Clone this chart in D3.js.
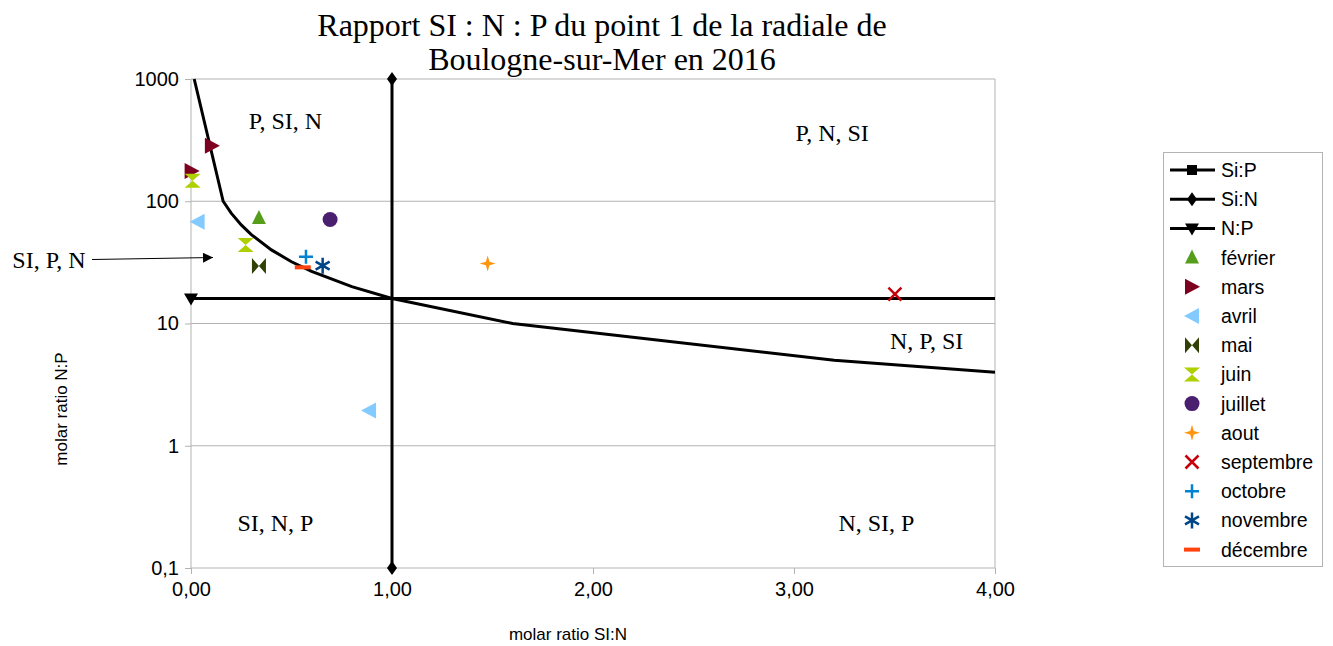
<!DOCTYPE html>
<html lang="fr">
<head>
<meta charset="UTF-8">
<title>Rapport SI : N : P</title>
<script src="https://d3js.org/d3.v7.min.js"></script>
<style>
  body { margin: 0; background: #fff; }
  .title { font-family: "Liberation Serif", serif; font-size: 32px; fill: #000; }
  .zone { font-family: "Liberation Serif", serif; font-size: 24px; fill: #000; }
  .tick text { font-family: "Liberation Sans", Arial, sans-serif; font-size: 20px; fill: #000; }
  .axis-label { font-family: "Liberation Sans", Arial, sans-serif; font-size: 17px; fill: #000; }
  .legend text { font-family: "Liberation Sans", Arial, sans-serif; font-size: 19.5px; fill: #000; }
</style>
</head>
<body>
<script>
// reference lines
var siPx = [0.016, 0.16, 0.2, 0.25, 0.3, 0.4, 0.5, 0.6, 0.8, 1, 1.6, 3.2, 4];
var siPy = [1000, 100, 80, 64, 53.3, 40, 32, 26.7, 20, 16, 10, 5, 4];
var siNx = [1, 1];
var siNy = [0.1, 1000];
var nPx = [0, 4];
var nPy = [16, 16];

// monthly samples
var months = ["février", "mars", "avril", "mai", "juin", "juillet", "aout", "septembre", "octobre", "novembre", "décembre"];
var monthColors = ["#579d1c", "#7e0021", "#83caff", "#314004", "#aecf00", "#4b1f6f", "#ff950e", "#c5000b", "#0084d1", "#004586", "#ff420e"];
var monthShapes = ["triUp", "triRight", "triLeft", "bowtie", "hourglass", "circle", "star4", "cross", "plus", "asterisk", "dash"];
var sampleMonth = ["février", "mars", "mars", "avril", "avril", "mai", "juin", "juin", "juillet", "aout", "septembre", "octobre", "novembre", "décembre"];
var sampleSiN = [0.338, 0.003, 0.104, 0.033, 0.886, 0.338, 0.008, 0.272, 0.692, 1.476, 3.502, 0.572, 0.655, 0.556];
var sampleNP = [73, 177, 285, 68, 1.94, 29.5, 147, 43.9, 71, 31, 17.4, 35.2, 29.7, 28.8];

var xTicks = [0, 1, 2, 3, 4];
var yTicks = [0.1, 1, 10, 100, 1000];

var zones = [
  { t: "P, SI, N", x: 0.47, y: 453 },
  { t: "P, N, SI", x: 3.19, y: 362 },
  { t: "N, P, SI", x: 3.66, y: 7.2 },
  { t: "SI, N, P", x: 0.42, y: 0.233 },
  { t: "N, SI, P", x: 3.41, y: 0.233 }
];

var W = 1333, H = 646;
var x = d3.scaleLinear().domain([0, 4]).range([191, 995]);
var y = d3.scaleLog().domain([0.1, 1000]).range([568, 79]);

var svg = d3.select("body").append("svg").attr("width", W).attr("height", H);

// title
svg.append("text").attr("class", "title").attr("x", 602).attr("y", 36)
  .attr("text-anchor", "middle").text("Rapport SI : N : P du point 1 de la radiale de");
svg.append("text").attr("class", "title").attr("x", 602).attr("y", 70)
  .attr("text-anchor", "middle").text("Boulogne-sur-Mer en 2016");

// grid
svg.append("g").selectAll("line").data(yTicks).enter().append("line")
  .attr("x1", x(0)).attr("x2", x(4))
  .attr("y1", function (d) { return y(d); }).attr("y2", function (d) { return y(d); })
  .attr("stroke", "#b3b3b3").attr("stroke-width", 1);
svg.append("line").attr("x1", x(0)).attr("x2", x(0)).attr("y1", y(1000)).attr("y2", y(0.1))
  .attr("stroke", "#b3b3b3");
svg.append("line").attr("x1", x(4)).attr("x2", x(4)).attr("y1", y(1000)).attr("y2", y(0.1))
  .attr("stroke", "#b3b3b3");

// axes
var xAxis = svg.append("g").attr("transform", "translate(0," + y(0.1) + ")")
  .call(d3.axisBottom(x).tickValues(xTicks).tickSize(6).tickPadding(8)
    .tickFormat(function (d) { return d3.format(".2f")(d).replace(".", ","); }));
var yAxis = svg.append("g").attr("transform", "translate(" + x(0) + ",0)")
  .call(d3.axisLeft(y).tickValues(yTicks).tickSize(6).tickPadding(6)
    .tickFormat(function (d) { return String(d).replace(".", ","); }));
[xAxis, yAxis].forEach(function (a) {
  a.select(".domain").remove();
  a.selectAll(".tick line").attr("stroke", "#b3b3b3");
});

svg.append("text").attr("class", "axis-label").attr("x", 568).attr("y", 640)
  .attr("text-anchor", "middle").text("molar ratio SI:N");
svg.append("text").attr("class", "axis-label")
  .attr("transform", "translate(67,409) rotate(-90)")
  .attr("text-anchor", "middle").text("molar ratio N:P");

// clip
svg.append("clipPath").attr("id", "plot").append("rect")
  .attr("x", x(0) - 8).attr("y", y(1000) - 8).attr("width", x(4) - x(0) + 8).attr("height", y(0.1) - y(1000) + 16);

var plot = svg.append("g").attr("clip-path", "url(#plot)");
var line = d3.line().x(function (d) { return x(d[0]); }).y(function (d) { return y(d[1]); });

plot.append("path").datum(d3.zip(siPx, siPy)).attr("d", line)
  .attr("fill", "none").attr("stroke", "#000").attr("stroke-width", 3);
plot.append("path").datum(d3.zip(siNx, siNy)).attr("d", line)
  .attr("fill", "none").attr("stroke", "#000").attr("stroke-width", 3);
plot.append("path").datum(d3.zip(nPx, nPy)).attr("d", line)
  .attr("fill", "none").attr("stroke", "#000").attr("stroke-width", 3);

// line markers
function diamond(g, cx, cy) {
  g.append("path").attr("d", "M0,-7L5,0L0,7L-5,0Z").attr("transform", "translate(" + cx + "," + cy + ")").attr("fill", "#000");
}
function triDown(g, cx, cy) {
  g.append("path").attr("d", "M-7,-5L7,-5L0,7Z").attr("transform", "translate(" + cx + "," + cy + ")").attr("fill", "#000");
}
function square(g, cx, cy) {
  g.append("rect").attr("x", cx - 5).attr("y", cy - 5).attr("width", 10).attr("height", 10).attr("fill", "#000");
}
siNx.forEach(function (v, i) { diamond(plot, x(v), y(siNy[i])); });
triDown(plot, x(nPx[0]), y(nPy[0]));

// month symbols
var shapePaths = {
  triUp: "M0,-8L7,6L-7,6Z",
  triRight: "M-7,-8L8,0L-7,8Z",
  triLeft: "M7,-8L-8,0L7,8Z",
  bowtie: "M-7,-8L0,0L-7,8ZM7,-8L0,0L7,8Z",
  hourglass: "M-8,-7L8,-7L0,0ZM-8,7L8,7L0,0Z",
  circle: "M-7.5,0A7.5,7.5 0 1,0 7.5,0A7.5,7.5 0 1,0 -7.5,0Z",
  star4: "M0,-8L1.8,-1.8L8,0L1.8,1.8L0,8L-1.8,1.8L-8,0L-1.8,-1.8Z",
  cross: "M-6.5,-6.5L6.5,6.5M6.5,-6.5L-6.5,6.5",
  plus: "M-7,0L7,0M0,-7L0,7",
  asterisk: "M0,-8L0,8M-7,-4L7,4M-7,4L7,-4",
  dash: "M-8,0L8,0"
};
var strokeShapes = { cross: 2.5, plus: 2.5, asterisk: 2.5, dash: 4 };

function drawSymbol(g, shape, color, cx, cy) {
  var p = g.append("path").attr("d", shapePaths[shape])
    .attr("transform", "translate(" + cx + "," + cy + ")");
  if (strokeShapes[shape]) {
    p.attr("fill", "none").attr("stroke", color).attr("stroke-width", strokeShapes[shape]);
  } else {
    p.attr("fill", color);
  }
}

sampleMonth.forEach(function (m, i) {
  var k = months.indexOf(m);
  drawSymbol(plot, monthShapes[k], monthColors[k], x(sampleSiN[i]), y(sampleNP[i]));
});

// zone labels
svg.append("g").selectAll("text").data(zones).enter().append("text")
  .attr("class", "zone").attr("text-anchor", "middle")
  .attr("x", function (d) { return x(d.x); })
  .attr("y", function (d) { return y(d.y) + 8; })
  .text(function (d) { return d.t; });

svg.append("text").attr("class", "zone").attr("x", 49).attr("y", 268)
  .attr("text-anchor", "middle").text("SI, P, N");
svg.append("defs").append("marker").attr("id", "arrow").attr("viewBox", "0 0 10 10")
  .attr("refX", 10).attr("refY", 5).attr("markerWidth", 16).attr("markerHeight", 10)
  .attr("markerUnits", "userSpaceOnUse").attr("orient", "auto")
  .append("path").attr("d", "M0,0L10,5L0,10Z").attr("fill", "#000");
svg.append("line").attr("x1", 92).attr("y1", 259.5).attr("x2", 213).attr("y2", 257.5)
  .attr("stroke", "#000").attr("stroke-width", 1).attr("marker-end", "url(#arrow)");

// legend
var lg = svg.append("g").attr("class", "legend");
lg.append("rect").attr("x", 1163.5).attr("y", 152.5).attr("width", 159).attr("height", 414)
  .attr("fill", "#fff").attr("stroke", "#b3b3b3");
var lineNames = ["Si:P", "Si:N", "N:P"];
var lineMarks = [square, diamond, triDown];
var rowY = function (i) { return 170 + i * 29.2; };
lineNames.forEach(function (n, i) {
  var cy = rowY(i);
  lg.append("line").attr("x1", 1170).attr("x2", 1215).attr("y1", cy).attr("y2", cy)
    .attr("stroke", "#000").attr("stroke-width", 3);
  lineMarks[i](lg, 1192, cy);
  lg.append("text").attr("x", 1221).attr("y", cy + 7).text(n);
});
months.forEach(function (m, k) {
  var cy = rowY(k + 3);
  drawSymbol(lg, monthShapes[k], monthColors[k], 1192, cy);
  lg.append("text").attr("x", 1221).attr("y", cy + 7).text(m);
});
</script>
</body>
</html>
